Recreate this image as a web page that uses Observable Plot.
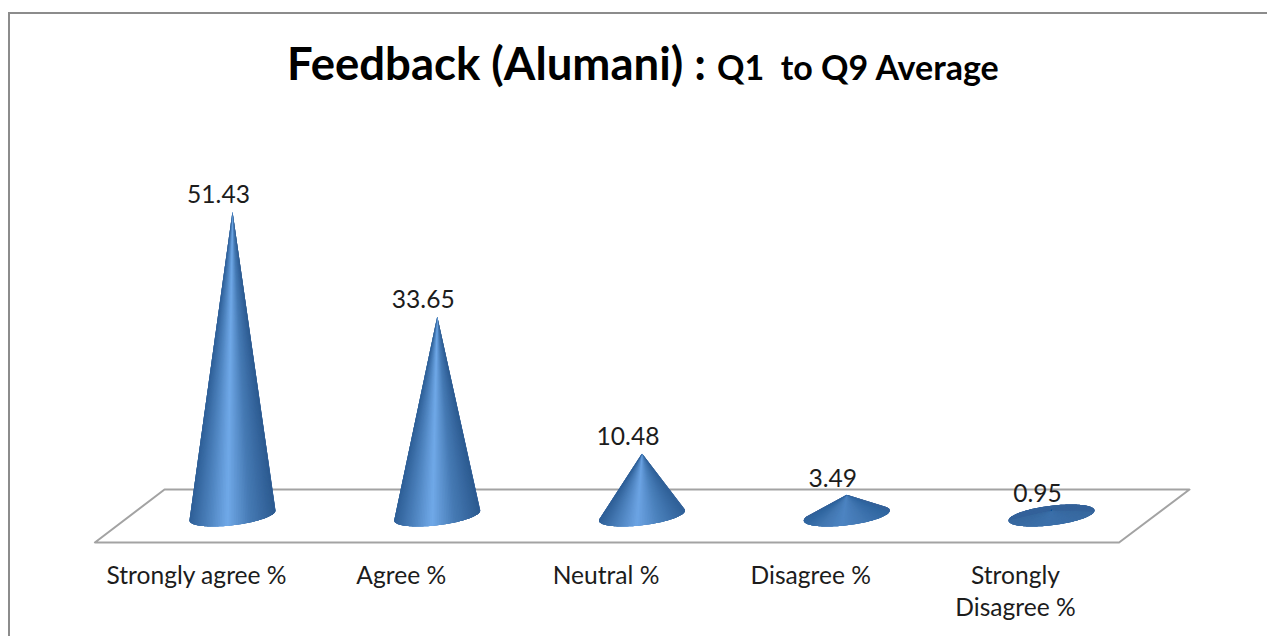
<!DOCTYPE html>
<html><head><meta charset="utf-8">
<script src="https://cdn.jsdelivr.net/npm/d3@7"></script>
<script src="https://cdn.jsdelivr.net/npm/@observablehq/plot@0.6"></script>
<style>
html,body{margin:0;padding:0;background:#fff;overflow:hidden}
#page{position:relative;width:1267px;height:636px;overflow:hidden}
#frame{position:absolute;left:8px;top:12px;width:1300px;height:700px;border-left:2px solid #8c8c8c;border-top:2px solid #8c8c8c;box-sizing:border-box}
#title{position:absolute;left:287px;top:33px;height:60px;white-space:pre;font-family:Lato;font-weight:700;color:#000;font-size:45.5px;line-height:60px}
#title span{font-size:34px}
#chart{position:absolute;left:0;top:100px}
</style></head>
<body><div id="page"><div id="frame"></div>
<div id="title">Feedback (Alumani) : <span>Q1  to Q9 Average</span></div>
<div id="chart"></div></div>
<script>
const categories = ["Strongly agree %","Agree %","Neutral %","Disagree %","Strongly\nDisagree %"];
const values = [51.43,33.65,10.48,3.49,0.95];
const positions = categories.map((_,i)=>i);
const floorX = [-0.672,4.33,4.674,-0.332];
const floorY = [-4.57,-4.57,4.4,4.4];
const coneRadius = 0.21, coneTilt = 0.846, coneDepth = 1.66;
const stopOffsets = [0,0.3,0.56,0.8,1];
const coneRamps = [
  ["#2c5a90","#467ab4","#70a9e8","#4a7fba","#2f6098"],
  ["#2c5a90","#467ab4","#70a9e8","#4a7fba","#2f6098"],
  ["#2f6098","#4a80bb","#6ca4e4","#4a7fba","#2f6098"],
  ["#2f659f","#4277b2","#4d84c2","#4277b1","#2f659f"],
  ["#38699f","#3a6da6","#3c70aa","#3a6da5","#38699f"]
];
const backShade = "#34629a";
function coneFacets(i){
  const n = 144;
  const ring = d3.range(n).map(k=>{
    const t = k/n*2*Math.PI;
    return {t,p:[i+coneRadius*Math.cos(t), coneTilt*Math.cos(t)-coneDepth*Math.sin(t)]};
  });
  const tip = [i,values[i]];
  const hull = new Set(d3.polygonHull([...ring.map(r=>r.p),tip]));
  const ramp = d3.scaleLinear(stopOffsets,coneRamps[i]);
  const rows = [];
  ring.forEach((r,k)=>{
    const q = ring[(k+1)%n];
    if(!hull.has(r.p)||!hull.has(q.p)) return;
    const mid = r.t+Math.PI/n;
    const shade = Math.sin(mid)<0 ? backShade : ramp((1-Math.cos(mid))/2);
    const id = `${i}-${k}`;
    // each wedge also reaches under the next ones, so no seam shows the page through
    const reach = [r,q];
    for(let s=2;s<=4;s++){
      const next = ring[(k+s)%n];
      if(!hull.has(next.p)) break;
      reach.push(next);
    }
    for(const pt of [tip,...reach.map(e=>e.p)]) rows.push({id,x:pt[0],y:pt[1],shade});
  });
  return rows;
}
const facets = positions.flatMap(coneFacets);
const plot = Plot.plot({
  width:1267,height:536,
  marginTop:0,marginRight:0,marginLeft:0,marginBottom:94,
  x:{type:"linear",domain:[0,4],range:[232,1051]},
  y:{type:"linear",domain:[0,51.43],range:[415,111],axis:null},
  color:{type:"identity"},
  style:{background:"transparent",overflow:"visible"},
  marks:[
    Plot.line(floorX.map((x,k)=>({x,y:floorY[k]})),{x:"x",y:"y",stroke:"#a3a3a3",strokeWidth:2,curve:"linear-closed"}),
    Plot.line(facets,{x:"x",y:"y",z:"id",fill:"shade",stroke:"none",curve:"linear-closed"}),
    Plot.text(positions,{x:d=>d,y:d=>values[d],text:d=>String(values[d]),dx:-14,dy:-16,fontSize:24.6,fontFamily:"Lato",fill:"#1c1c1c"}),
    Plot.axisX(positions,{anchor:"bottom",tickSize:0,tickPadding:19,dx:-36,label:null,tickFormat:d=>categories[d],fontSize:24.6,fontFamily:"Lato",fill:"#1c1c1c",lineHeight:1.3})
  ]
});
document.getElementById("chart").append(plot);
</script></body></html>
